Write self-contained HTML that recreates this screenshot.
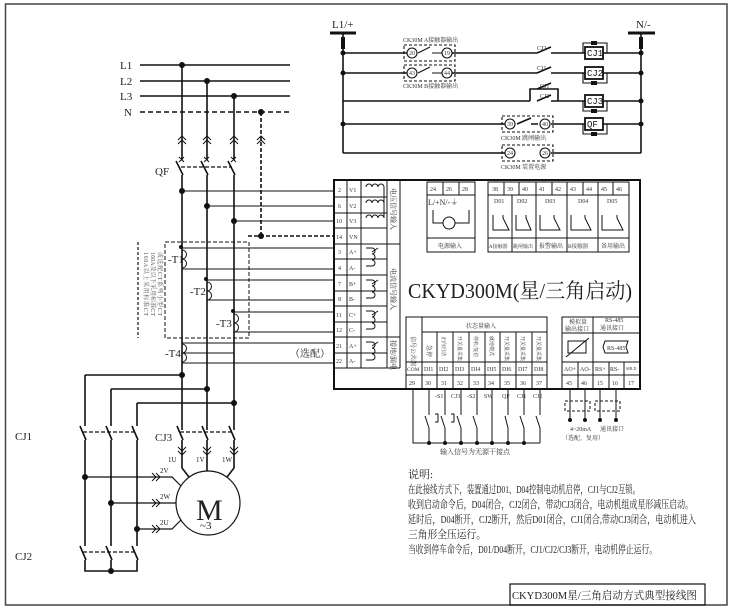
<!DOCTYPE html>
<html><head><meta charset="utf-8"><style>
html,body{margin:0;padding:0;background:#fff;}
svg{display:block;font-family:"Liberation Serif","Noto Serif CJK SC",serif;}
</style></head><body>
<svg width="737" height="612" viewBox="0 0 737 612" xmlns="http://www.w3.org/2000/svg">
<rect x="5.5" y="4" width="721.5" height="601" fill="none" stroke="#444" stroke-width="1.5"/>
<g stroke="#111" fill="none" stroke-width="1.6">
<line x1="140" y1="65" x2="290" y2="65"/><line x1="140" y1="81" x2="290" y2="81"/><line x1="140" y1="96" x2="290" y2="96"/>
<line x1="140" y1="112" x2="290" y2="112" stroke-dasharray="5,3"/>
<line x1="182" y1="65" x2="182" y2="160"/><line x1="207" y1="81" x2="207" y2="160"/><line x1="234" y1="96" x2="234" y2="160"/>
<line x1="261" y1="112" x2="261" y2="236" stroke-dasharray="4,2"/>
<path d="M176 161 L183 175 M201 161 L208 175 M228 161 L235 175"/>
<line x1="181" y1="167" x2="232" y2="167" stroke-dasharray="4,2" stroke-width="1.2"/>
<line x1="182" y1="175" x2="182" y2="375"/><line x1="207" y1="175" x2="207" y2="430"/><line x1="234" y1="175" x2="234" y2="430"/>
<line x1="182" y1="375" x2="182" y2="430"/>
<g stroke-width="1.1">
<line x1="182" y1="191" x2="334" y2="191"/><line x1="207" y1="206" x2="334" y2="206"/><line x1="234" y1="221" x2="334" y2="221"/>
<line x1="248" y1="236" x2="334" y2="236" stroke-dasharray="4,2" stroke-width="1.6"/>
<line x1="182" y1="248" x2="334" y2="248"/><line x1="182" y1="269" x2="334" y2="269"/>
<line x1="207" y1="280" x2="334" y2="280"/><line x1="207" y1="300" x2="334" y2="300"/>
<line x1="234" y1="312" x2="334" y2="312"/><line x1="234" y1="332" x2="334" y2="332"/>
<line x1="182" y1="343" x2="334" y2="343"/><line x1="182" y1="353" x2="234" y2="353"/><line x1="182" y1="363" x2="334" y2="363"/>
</g>
<rect x="165" y="242" width="84" height="96" stroke-dasharray="4,2" stroke-width="1"/>
<line x1="138" y1="242" x2="138" y2="338" stroke-dasharray="3,2" stroke-width="1.2"/>
<path d="M182 250 a4 4 0 0 1 0 9 a4 4 0 0 1 0 9" stroke-width="1"/>
<path d="M207 282 a4 4 0 0 1 0 9 a4 4 0 0 1 0 9" stroke-width="1"/>
<path d="M234 314 a4 4 0 0 1 0 9 a4 4 0 0 1 0 9" stroke-width="1"/>
<path d="M182 344 a4 4 0 0 1 0 9 a4 4 0 0 1 0 9" stroke-width="1"/>
<path d="M178 140 l4 -4 l4 4 M178 144 l4 -4 l4 4 M203 140 l4 -4 l4 4 M203 144 l4 -4 l4 4 M230 140 l4 -4 l4 4 M230 144 l4 -4 l4 4 M257 140 l4 -4 l4 4 M257 144 l4 -4 l4 4" stroke-width="1"/>
<path d="M179 157 l5 5 M184 157 l-5 5 M204 157 l5 5 M209 157 l-5 5 M231 157 l5 5 M236 157 l-5 5" stroke-width="1"/>
<line x1="85" y1="375" x2="182" y2="375"/><line x1="111" y1="389" x2="207" y2="389"/><line x1="137" y1="403" x2="234" y2="403"/>
<line x1="85" y1="375" x2="85" y2="426"/><line x1="111" y1="389" x2="111" y2="426"/><line x1="137" y1="403" x2="137" y2="426"/>
<path d="M80 426 L86 440 M106 426 L112 440 M132 426 L138 440"/>
<line x1="83" y1="432" x2="137" y2="432" stroke-dasharray="4,2" stroke-width="1.2"/>
<line x1="85" y1="440" x2="85" y2="546"/><line x1="111" y1="440" x2="111" y2="546"/><line x1="137" y1="440" x2="137" y2="546"/>
<path d="M80 546 L86 560 M106 546 L112 560 M132 546 L138 560"/>
<line x1="83" y1="552" x2="137" y2="552" stroke-dasharray="4,2" stroke-width="1.2"/>
<path d="M85 560 V571 H137 V560 M111 560 V571"/>
<path d="M177 426 L183 440 M202 426 L208 440 M229 426 L235 440"/>
<line x1="180" y1="432" x2="234" y2="432" stroke-dasharray="4,2" stroke-width="1.2"/>
<path d="M182 440 V468 L189 477 M207 440 V471 M234 440 V468 L227 477"/>
<path d="M178 447 l4 4 l4 -4 M178 451 l4 4 l4 -4 M203 447 l4 4 l4 -4 M203 451 l4 4 l4 -4 M230 447 l4 4 l4 -4 M230 451 l4 4 l4 -4" stroke-width="1"/>
<circle cx="208" cy="503" r="32" stroke-width="1.2"/>
<path d="M85 477 H162 L172 477 L181 486 M111 503 H176 M137 529 H165 L172 529 L181 520" stroke-width="1.2"/>
<path d="M152 473 l4 4 l-4 4 M156 473 l4 4 l-4 4 M152 499 l4 4 l-4 4 M156 499 l4 4 l-4 4 M152 525 l4 4 l-4 4 M156 525 l4 4 l-4 4" stroke-width="1"/>
</g>
<g fill="#111">
<circle cx="182" cy="65" r="3"/><circle cx="207" cy="81" r="3"/><circle cx="234" cy="96" r="3"/><circle cx="261" cy="112" r="3"/>
<circle cx="182" cy="191" r="3"/><circle cx="207" cy="206" r="3"/><circle cx="234" cy="221" r="3"/><circle cx="261" cy="236" r="3"/>
<circle cx="182" cy="375" r="3"/><circle cx="207" cy="389" r="3"/><circle cx="234" cy="403" r="3"/>
<circle cx="85" cy="477" r="3"/><circle cx="111" cy="503" r="3"/><circle cx="137" cy="529" r="3"/><circle cx="111" cy="571" r="3"/>
<circle cx="181" cy="247" r="2"/><circle cx="206" cy="279" r="2"/><circle cx="233" cy="311" r="2"/>
</g>
<g font-size="11" fill="#222">
<text x="120" y="69">L1</text><text x="120" y="85">L2</text><text x="120" y="100">L3</text><text x="124" y="116">N</text>
<text x="155" y="175">QF</text>
<text x="168" y="263">-T1</text><text x="190" y="295">-T2</text><text x="216" y="327">-T3</text><text x="165" y="357">-T4</text>
<text x="290" y="357" font-size="10">（选配）</text>
<text x="15" y="440">CJ1</text><text x="15" y="560">CJ2</text><text x="155" y="441">CJ3</text>
<text x="168" y="462" font-size="7">1U</text><text x="196" y="462" font-size="7">1V</text><text x="222" y="462" font-size="7">1W</text>
<text x="160" y="473" font-size="7">2V</text><text x="160" y="499" font-size="7">2W</text><text x="160" y="525" font-size="7">2U</text>
<text x="196" y="520" font-size="30">M</text><text x="200" y="529" font-size="11">~3</text>
<g font-size="6" fill="#555">
<text transform="translate(144,252) rotate(90)" textLength="64">160A以上采用标准CT</text>
<text transform="translate(151,252) rotate(90)" textLength="64">160A及以下采用标准CT</text>
<text transform="translate(158,252) rotate(90)" textLength="64">或选配CT系列小型CT</text>
</g>
</g>

<g stroke="#111" fill="none" stroke-width="1.6">
<line x1="330" y1="33" x2="356" y2="33" stroke-width="3"/><line x1="628" y1="33" x2="655" y2="33" stroke-width="3"/>
<line x1="343" y1="33" x2="343" y2="153"/><line x1="641" y1="33" x2="641" y2="153"/>
<line x1="343" y1="53" x2="408" y2="53"/><line x1="451" y1="53" x2="537" y2="53"/><path d="M537 53 L551 47 M551 53 H585"/><line x1="603" y1="53" x2="641" y2="53"/>
<line x1="343" y1="73" x2="408" y2="73"/><line x1="451" y1="73" x2="537" y2="73"/><path d="M537 73 L551 67 M551 73 H585"/><line x1="603" y1="73" x2="641" y2="73"/>
<line x1="343" y1="101" x2="530" y2="101"/><path d="M530 101 V89 H558 V101 M537 89 L551 83 M537 101 L551 95 M551 101 H585"/><line x1="603" y1="101" x2="641" y2="101"/>
<line x1="343" y1="124" x2="505" y2="124"/><path d="M517 124 L531 118 M531 124 H538"/><line x1="551" y1="124" x2="585" y2="124"/><line x1="603" y1="124" x2="641" y2="124"/>
<line x1="343" y1="153" x2="505" y2="153"/><line x1="551" y1="153" x2="641" y2="153"/>
<path d="M418 53 L430 47 M418 73 L430 67 M432 53 H443 M432 73 H443" stroke-width="1"/>
</g>
<g stroke="#111" fill="none" stroke-width="1.1">
<rect x="404" y="45" width="51" height="16" stroke-dasharray="3,2"/><rect x="404" y="65" width="51" height="16" stroke-dasharray="3,2"/>
<rect x="502" y="116" width="51" height="16" stroke-dasharray="3,2"/><rect x="502" y="145" width="51" height="16" stroke-dasharray="3,2"/>
<circle cx="412" cy="53" r="5" fill="#fff"/><circle cx="447" cy="53" r="5" fill="#fff"/>
<circle cx="412" cy="73" r="5" fill="#fff"/><circle cx="447" cy="73" r="5" fill="#fff"/>
<circle cx="510" cy="124" r="5" fill="#fff"/><circle cx="545" cy="124" r="5" fill="#fff"/>
<circle cx="510" cy="153" r="5" fill="#fff"/><circle cx="545" cy="153" r="5" fill="#fff"/>
<rect x="585" y="47" width="18" height="12" stroke-width="1.8"/><rect x="585" y="67" width="18" height="12" stroke-width="1.8"/>
<rect x="585" y="95" width="18" height="12" stroke-width="1.8"/><rect x="585" y="118" width="18" height="12" stroke-width="1.8"/>
<path d="M583 53 V43 H607 V53 M583 73 V83 H607 V73 M583 101 V111 H607 V101 M583 124 V134 H607 V124"/>
</g>
<g fill="#111"><rect x="591" y="41" width="6" height="4"/><rect x="591" y="81" width="6" height="4"/><rect x="591" y="109" width="6" height="4"/><rect x="591" y="132" width="6" height="4"/>
<rect x="341" y="37" width="4" height="12"/><rect x="639" y="37" width="4" height="12"/>
<circle cx="343" cy="53" r="2.5"/><circle cx="343" cy="73" r="2.5"/><circle cx="343" cy="124" r="2.5"/><circle cx="641" cy="53" r="2.5"/><circle cx="641" cy="73" r="2.5"/><circle cx="641" cy="101" r="2.5"/><circle cx="641" cy="124" r="2.5"/></g>
<g font-size="6" fill="#333">
<text x="409" y="55">20</text><text x="444" y="55">19</text><text x="409" y="75">43</text><text x="444" y="75">44</text>
<text x="507" y="126">39</text><text x="542" y="126">40</text><text x="507" y="155">24</text><text x="542" y="155">26</text>
<text x="403" y="42">CK30M  A接触器输出</text><text x="403" y="88">CK30M  B接触器输出</text>
<text x="501" y="140">CK30M  跳闸输出</text><text x="501" y="169">CK30M  装置电源</text>
<text x="537" y="50">CJ2</text><text x="537" y="70">CJ1</text><text x="540" y="88">CJ1</text><text x="540" y="98">CJ2</text>
</g>
<g font-size="9" fill="#111" font-family="Liberation Mono,monospace">
<text x="587" y="56">CJ1</text><text x="587" y="76">CJ2</text><text x="587" y="104">CJ3</text><text x="587" y="127">QF</text>
</g>
<text x="332" y="28" font-size="11" fill="#222">L1/+</text><text x="636" y="28" font-size="11" fill="#222">N/-</text>

<g stroke="#111" fill="none" stroke-width="1">
<rect x="334" y="180" width="306" height="209" stroke-width="2"/>
<line x1="347" y1="181" x2="347" y2="368"/><line x1="361" y1="181" x2="361" y2="368"/><line x1="387" y1="181" x2="387" y2="368"/><line x1="400" y1="181" x2="400" y2="368"/>
<line x1="334" y1="368" x2="400" y2="368"/>
<path d="M334 197 H387 M334 213 H387 M334 228 H387 M334 244 H400 M334 259 H387 M334 275 H387 M334 291 H387 M334 306 H387 M334 322 H387 M334 337 H400 M334 353 H387"/>
<rect x="427" y="182" width="48" height="70"/><line x1="427" y1="195" x2="475" y2="195"/><line x1="427" y1="238" x2="475" y2="238"/>
<line x1="443" y1="182" x2="443" y2="195"/><line x1="459" y1="182" x2="459" y2="195"/>
<path d="M433 210 V223 H443 M455 223 H469 V210"/><circle cx="449" cy="223" r="6"/>
<rect x="488" y="182" width="141" height="70"/><line x1="488" y1="195" x2="629" y2="195"/><line x1="488" y1="238" x2="629" y2="238"/>
<path d="M504 182 V195 M519 182 V195 M552 182 V195 M583 182 V195 M613 182 V195"/>
<path d="M512 195 V252 M536 182 V252 M567 182 V252 M598 182 V252"/>
<path d="M493 215 V230 H509 L503 218 V215 M516 215 V230 H531 L526 218 V215 M540 215 V230 H560 L554 218 V215 M571 215 V230 H591 L585 218 V215 M602 215 V230 H623 L617 218 V215"/>
<path d="M366 187 a3 3 0 0 1 6 0 a3 3 0 0 1 6 0 a3 3 0 0 1 6 0 M366 203 a3 3 0 0 1 6 0 a3 3 0 0 1 6 0 a3 3 0 0 1 6 0 M366 218 a3 3 0 0 1 6 0 a3 3 0 0 1 6 0 a3 3 0 0 1 6 0 M384 187 V218"/>
<path d="M366 248 H372 a3 3 0 0 1 0 6 a3 3 0 0 1 0 6 a3 3 0 0 1 0 6 H366 M372 252 L378 248 M366 280 H372 a3 3 0 0 1 0 6 a3 3 0 0 1 0 6 a3 3 0 0 1 0 6 H366 M372 284 L378 280 M366 311 H372 a3 3 0 0 1 0 6 a3 3 0 0 1 0 6 a3 3 0 0 1 0 6 H366 M372 315 L378 311 M366 342 H372 a3 3 0 0 1 0 6 a3 3 0 0 1 0 6 a3 3 0 0 1 0 6 H366 M372 346 L378 342"/>
<rect x="406" y="317" width="141" height="72"/>
<line x1="422" y1="332" x2="547" y2="332"/><line x1="406" y1="362" x2="547" y2="362"/><line x1="406" y1="375" x2="547" y2="375"/>
<path d="M422 317 V389 M437 332 V389 M453 332 V389 M469 332 V389 M485 332 V389 M500 332 V389 M516 332 V389 M532 332 V389"/>
<rect x="562" y="317" width="78" height="72"/><line x1="593" y1="317" x2="593" y2="362"/>
<line x1="562" y1="333" x2="640" y2="333"/><line x1="562" y1="362" x2="640" y2="362"/><line x1="562" y1="375" x2="640" y2="375"/>
<path d="M578 362 V389 M593 362 V389 M609 362 V389 M624 362 V389"/>
<rect x="568" y="341" width="18" height="12"/><line x1="566" y1="357" x2="589" y2="338"/>
<path d="M605 341 H628 L626 347 L628 353 H605 L603 347 Z"/>
<path d="M413 389 V443 H540 M429 389 V415 M429 428 V443 M445 389 V415 M445 428 V443 M461 389 V415 M461 428 V443 M477 389 V415 M477 428 V443 M492 389 V443 M508 389 V415 M508 428 V443 M524 389 V415 M524 428 V443 M540 389 V415 M540 428 V443"/>
<path d="M425 416 L429 428 M441 416 L445 428 M457 416 L461 428 M473 416 L477 428 M505 416 L508 428 M520 416 L524 428 M536 416 L540 428"/>
<path d="M435 414 h3 v8 h-3 M451 414 h3 v8 h-3"/>
<path d="M570 389 V420 M585 389 V420 M600 389 V420 M616 389 V420"/>
<rect x="565" y="401" width="25" height="10" stroke-dasharray="3,2"/><rect x="595" y="401" width="25" height="10" stroke-dasharray="3,2"/>
</g>
<g fill="#111"><circle cx="429" cy="443" r="2"/><circle cx="445" cy="443" r="2"/><circle cx="461" cy="443" r="2"/><circle cx="477" cy="443" r="2"/><circle cx="492" cy="443" r="2"/><circle cx="508" cy="443" r="2"/><circle cx="524" cy="443" r="2"/>
<circle cx="570" cy="420" r="2"/><circle cx="585" cy="420" r="2"/><circle cx="600" cy="420" r="2"/><circle cx="616" cy="420" r="2"/></g>
<g font-size="6" fill="#333">
<text x="338" y="192">2</text><text x="338" y="208">6</text><text x="336" y="223">10</text><text x="336" y="239">14</text><text x="338" y="254">3</text><text x="338" y="270">4</text><text x="338" y="286">7</text><text x="338" y="301">8</text><text x="336" y="317">11</text><text x="336" y="332">12</text><text x="336" y="348">21</text><text x="336" y="363">22</text>
<text x="349" y="192">V1</text><text x="349" y="208">V2</text><text x="349" y="223">V3</text><text x="349" y="239">VN</text><text x="349" y="254">A+</text><text x="349" y="270">A-</text><text x="349" y="286">B+</text><text x="349" y="301">B-</text><text x="349" y="317">C+</text><text x="349" y="332">C-</text><text x="349" y="348">A+</text><text x="349" y="363">A-</text>
<text transform="translate(391,188) rotate(90)" font-size="7">电压信号输入</text>
<text transform="translate(391,268) rotate(90)" font-size="7">电流信号输入</text>
<text transform="translate(391,340) rotate(90)" font-size="7">接地/漏电</text>
<text x="430" y="191">24</text><text x="446" y="191">26</text><text x="462" y="191">28</text>
<text x="428" y="205" font-size="8">L/+N/-⏚</text><text x="438" y="248">电源输入</text>
<text x="492" y="191">38</text><text x="507" y="191">39</text><text x="522" y="191">40</text><text x="539" y="191">41</text><text x="555" y="191">42</text><text x="570" y="191">43</text><text x="586" y="191">44</text><text x="601" y="191">45</text><text x="616" y="191">46</text>
<text x="494" y="203">D01</text><text x="517" y="203">D02</text><text x="545" y="203">D03</text><text x="578" y="203">D04</text><text x="607" y="203">D05</text>
<text x="489" y="248" font-size="5">A接触器</text><text x="513" y="248" font-size="5">跳闸输出</text><text x="539" y="248">报警输出</text><text x="568" y="248" font-size="5.5">B接触器</text><text x="601" y="248">备用输出</text>
<text x="466" y="328">状态量输入</text>
<text transform="translate(411,336) rotate(90)">信号公共端</text>
<text transform="translate(427,345) rotate(90)">急停</text>
<text transform="translate(442,336) rotate(90)" font-size="5">正向启动</text>
<text transform="translate(458,336) rotate(90)" font-size="5">开关量采集</text>
<text transform="translate(474,336) rotate(90)" font-size="5">停机/复位</text>
<text transform="translate(490,336) rotate(90)" font-size="5">就地模式</text>
<text transform="translate(505,336) rotate(90)" font-size="5">开关量采集</text>
<text transform="translate(521,336) rotate(90)" font-size="5">开关量采集</text>
<text transform="translate(537,336) rotate(90)" font-size="5">开关量采集</text>
<text x="407" y="371" font-size="5.5">COM</text><text x="424" y="371">DI1</text><text x="439" y="371">DI2</text><text x="455" y="371">DI3</text><text x="471" y="371">DI4</text><text x="487" y="371">DI5</text><text x="502" y="371">DI6</text><text x="518" y="371">DI7</text><text x="534" y="371">DI8</text>
<text x="409" y="385">29</text><text x="425" y="385">30</text><text x="441" y="385">31</text><text x="457" y="385">32</text><text x="473" y="385">33</text><text x="488" y="385">34</text><text x="504" y="385">35</text><text x="520" y="385">36</text><text x="536" y="385">37</text>
<text x="569" y="324">模拟量</text><text x="565" y="331">输出接口</text><text x="605" y="322">RS-485</text><text x="600" y="330">通讯接口</text>
<text x="607" y="350">RS-485</text>
<text x="564" y="371">AO+</text><text x="580" y="371">AO-</text><text x="595" y="371">RS+</text><text x="610" y="371">RS-</text><text x="626" y="370" font-size="4">SHLD</text>
<text x="566" y="385">45</text><text x="581" y="385">46</text><text x="597" y="385">15</text><text x="612" y="385">16</text><text x="628" y="385">17</text>
<text x="435" y="398">-S1</text><text x="451" y="398">CJ3</text><text x="467" y="398">-S2</text><text x="484" y="398">SW</text><text x="502" y="398">QF</text><text x="517" y="398">CJ1</text><text x="533" y="398">CJ2</text>
<text x="440" y="454" font-size="7">输入信号为无源干接点</text>
<text x="570" y="431">4~20mA</text><text x="562" y="440">（选配、复用）</text><text x="600" y="431">通讯接口</text>
</g>
<text x="408" y="298" font-size="21" fill="#222" textLength="224" lengthAdjust="spacingAndGlyphs">CKYD300M(星/三角启动)</text>
<g font-size="11" fill="#222">
<text x="408" y="478">说明:</text>
<text x="408" y="493" textLength="232" lengthAdjust="spacingAndGlyphs">在此接线方式下，装置通过D01、D04控制电动机启停，CJ1与CJ2互锁。</text>
<text x="408" y="508" textLength="285" lengthAdjust="spacingAndGlyphs">收到启动命令后，D04闭合，CJ2闭合，带动CJ3闭合，电动机组成星形减压启动。</text>
<text x="408" y="523" textLength="288" lengthAdjust="spacingAndGlyphs">延时后，D04断开，CJ2断开，然后D01闭合，CJ1闭合,带动CJ3闭合，电动机进入</text>
<text x="408" y="538" textLength="78" lengthAdjust="spacingAndGlyphs">三角形全压运行。</text>
<text x="408" y="553" textLength="249" lengthAdjust="spacingAndGlyphs">当收到停车命令后，D01/D04断开，CJ1/CJ2/CJ3断开，电动机停止运行。</text>
</g>
<rect x="510" y="584" width="195" height="21" fill="none" stroke="#111" stroke-width="1.2"/>
<text x="512" y="599" font-size="11" fill="#222" textLength="185" lengthAdjust="spacingAndGlyphs">CKYD300M星/三角启动方式典型接线图</text>
</svg>
</body></html>
